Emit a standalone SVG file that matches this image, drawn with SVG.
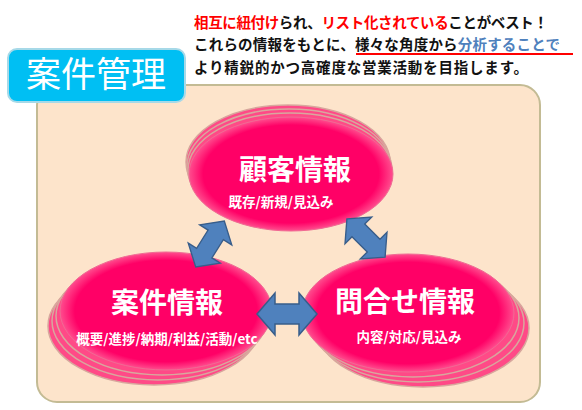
<svg xmlns="http://www.w3.org/2000/svg" width="582" height="410" viewBox="0 0 582 410">
<style>
.hd{font-family:"Noto Sans CJK JP","Noto Sans",sans-serif;font-weight:bold;font-size:14.5px;fill:#111}
.red{fill:#FF0000}
.blue{fill:#4F81BD}
.big{font-family:"Noto Sans CJK JP","Noto Sans",sans-serif;font-weight:bold;font-size:28px;fill:#fff;text-anchor:middle}
.sub{font-family:"Noto Sans CJK JP","Noto Sans",sans-serif;font-weight:bold;font-size:13.5px;fill:#fff;text-anchor:middle}
.copy{fill:#FF4A87;stroke:#D8A79D;stroke-width:1.5}
.main{fill:url(#pg);stroke:#F06A93;stroke-width:1}
.arr{fill:#4F81BD;stroke:#385D8A;stroke-width:1.5;stroke-linejoin:miter}
</style>
<defs>
<radialGradient id="pg" cx="0.5" cy="0.5" r="0.5">
<stop offset="0" stop-color="#FF0066"/>
<stop offset="0.86" stop-color="#FF0066"/>
<stop offset="1" stop-color="#FF4D8E"/>
</radialGradient>
<path id="dbl" d="M-30,0 L-12,-21 L-12,-10 L12,-10 L12,-21 L30,0 L12,21 L12,10 L-12,10 L-12,21 Z"/>
</defs>
<rect width="582" height="410" fill="#fff"/>
<g id="header">
<text class="hd" x="194" y="28" textLength="354" lengthAdjust="spacing"><tspan class="red">相互に紐付け</tspan>られ、<tspan class="red">リスト化されている</tspan>ことがベスト！</text>
<text class="hd" x="194" y="50" textLength="366" lengthAdjust="spacing">これらの情報をもとに、様々な角度から<tspan class="blue">分析することで</tspan></text>
<line x1="356" y1="54" x2="573" y2="54" stroke="#FF0000" stroke-width="2"/>
<text class="hd" x="194" y="73" textLength="334" lengthAdjust="spacing">より精鋭的かつ高確度な営業活動を目指します。</text>
</g>
<g id="panel">
<rect x="37" y="85" width="503" height="317" rx="20" fill="#FDE4CB" stroke="#C3BB94" stroke-width="2"/>
</g>
<g id="label">
<rect x="8" y="49" width="177" height="53" rx="9" fill="#00BFF3" stroke="#A6D9E8" stroke-width="2"/>
<text x="96" y="87" font-family="'Noto Sans CJK JP','Noto Sans',sans-serif" font-size="35" fill="#fff" text-anchor="middle">案件管理</text>
</g>
<g id="node-kokyaku">
<ellipse class="copy" cx="288" cy="162" rx="102" ry="57"/>
<ellipse class="copy" cx="289" cy="166" rx="102" ry="57"/>
<ellipse class="copy" cx="290" cy="170" rx="102" ry="57"/>
<ellipse class="main" cx="291" cy="174" rx="102" ry="57"/>
<text class="big" x="295" y="180">顧客情報</text>
<text class="sub" x="281" y="207">既存/新規/見込み</text>
</g>
<g id="node-anken">
<ellipse class="copy" cx="154" cy="326" rx="106" ry="59"/>
<ellipse class="copy" cx="158" cy="321" rx="106" ry="59"/>
<ellipse class="copy" cx="162" cy="316" rx="106" ry="59"/>
<ellipse class="main" cx="166" cy="311" rx="106" ry="59"/>
<text class="big" x="167" y="313">案件情報</text>
<text class="sub" x="167" y="344">概要/進捗/納期/利益/活動/etc</text>
</g>
<g id="node-toiawase">
<ellipse class="copy" cx="423" cy="328" rx="106" ry="59"/>
<ellipse class="copy" cx="418" cy="323" rx="106" ry="59"/>
<ellipse class="copy" cx="413" cy="318" rx="106" ry="59"/>
<ellipse class="main" cx="408" cy="313" rx="106" ry="59"/>
<text class="big" x="405" y="312">問合せ情報</text>
<text class="sub" x="409" y="342">内容/対応/見込み</text>
</g>
<g id="connectors">
<use href="#dbl" class="arr" transform="translate(210,244) rotate(-58) scale(0.9)"/>
<use href="#dbl" class="arr" transform="translate(366,238) rotate(45) scale(0.9)"/>
<use href="#dbl" class="arr" transform="translate(287,314)"/>
</g>
</svg>
